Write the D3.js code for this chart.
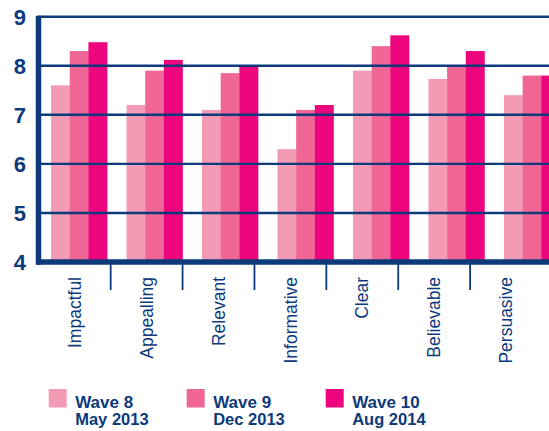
<!DOCTYPE html>
<html><head><meta charset="utf-8">
<script src="https://cdn.jsdelivr.net/npm/d3@7"></script>
<style>html,body{margin:0;padding:0;background:#fff;overflow:hidden}</style>
</head><body><svg id="c" width="549" height="431"></svg>
<script>
const categories = ["Impactful","Appealling","Relevant","Informative","Clear","Believable","Persuasive"];
const seriesNames = ["Wave 8","Wave 9","Wave 10"];
const seriesDates = ["May 2013","Dec 2013","Aug 2014"];
const wave8  = [7.6, 7.2, 7.1, 6.3, 7.9, 7.73, 7.4];
const wave9  = [8.3, 7.9, 7.85, 7.1, 8.4, 7.98, 7.8];
const wave10 = [8.48, 8.12, 8.0, 7.2, 8.62, 8.3, 7.8];
const yTicks = [4,5,6,7,8,9];
const colors = ["#f39ab4","#f06795","#ec057c"];
const navy = "#0c3a7b";

const series = [wave8, wave9, wave10];
const svg = d3.select("#c");
const y = d3.scaleLinear().domain([4,9]).range([262,16.7]);
const xBars = d3.scaleBand().domain(categories).range([39,572]).paddingInner(0.258).paddingOuter(0.16);
const xSub = d3.scaleBand().domain(d3.range(3)).range([0,xBars.bandwidth()]);
const xLab = d3.scaleBand().domain(categories).range([38.8,542]);

// bars
const g = svg.append("g");
categories.forEach((c,i)=>{
  series.forEach((s,j)=>{
    g.append("rect")
     .attr("x", xBars(c)+xSub(j))
     .attr("width", xSub.bandwidth()+0.3)
     .attr("y", y(s[i]))
     .attr("height", y(4)-y(s[i]))
     .attr("fill", colors[j]);
  });
});

// gridlines
svg.append("g").selectAll("line").data(yTicks.filter(d=>d>4)).join("line")
  .attr("x1",38).attr("x2",549).attr("y1",d=>y(d)).attr("y2",d=>y(d))
  .attr("stroke",navy).attr("stroke-width",2.4);

// axes lines
svg.append("line").attr("x1",38.5).attr("x2",38.5).attr("y1",y(9)-1).attr("y2",y(4)+2.8)
  .attr("stroke",navy).attr("stroke-width",5.5);
svg.append("line").attr("x1",36).attr("x2",549).attr("y1",y(4)).attr("y2",y(4))
  .attr("stroke",navy).attr("stroke-width",5.5);

// y labels
svg.append("g").selectAll("text").data(yTicks).join("text")
  .attr("x",26).attr("y",d=>y(d)).attr("dy","0.36em")
  .attr("text-anchor","end").attr("font-family","Liberation Sans, Arial, sans-serif")
  .attr("font-weight","bold").attr("font-size",22).attr("fill",navy).text(d=>d);

// x ticks (between categories)
svg.append("g").selectAll("line").data(categories.slice(1)).join("line")
  .attr("x1",d=>xLab(d)).attr("x2",d=>xLab(d)).attr("y1",264).attr("y2",290)
  .attr("stroke",navy).attr("stroke-width",1.8);

// x labels
svg.append("g").selectAll("text").data(categories).join("text")
  .attr("transform",d=>`translate(${xLab(d)+xLab.bandwidth()/2},277) rotate(-90)`)
  .attr("dy","0.35em").attr("text-anchor","end")
  .attr("font-family","Liberation Sans, Arial, sans-serif").attr("font-size",17.5)
  .attr("fill",navy).text(d=>d);

// legend
const legX = [48.7,186.7,325.7];
seriesNames.forEach((n,j)=>{
  const lg = svg.append("g").attr("transform",`translate(${legX[j]},389)`);
  lg.append("rect").attr("width",18).attr("height",18.5).attr("fill",colors[j]);
  lg.append("text").attr("x",26.5).attr("y",18.5).attr("font-family","Liberation Sans, Arial, sans-serif")
    .attr("font-weight","bold").attr("font-size",17).attr("fill",navy).text(n);
  lg.append("text").attr("x",26.5).attr("y",36).attr("font-family","Liberation Sans, Arial, sans-serif")
    .attr("font-weight","bold").attr("font-size",16.5).attr("fill",navy).text(seriesDates[j]);
});
</script></body></html>
